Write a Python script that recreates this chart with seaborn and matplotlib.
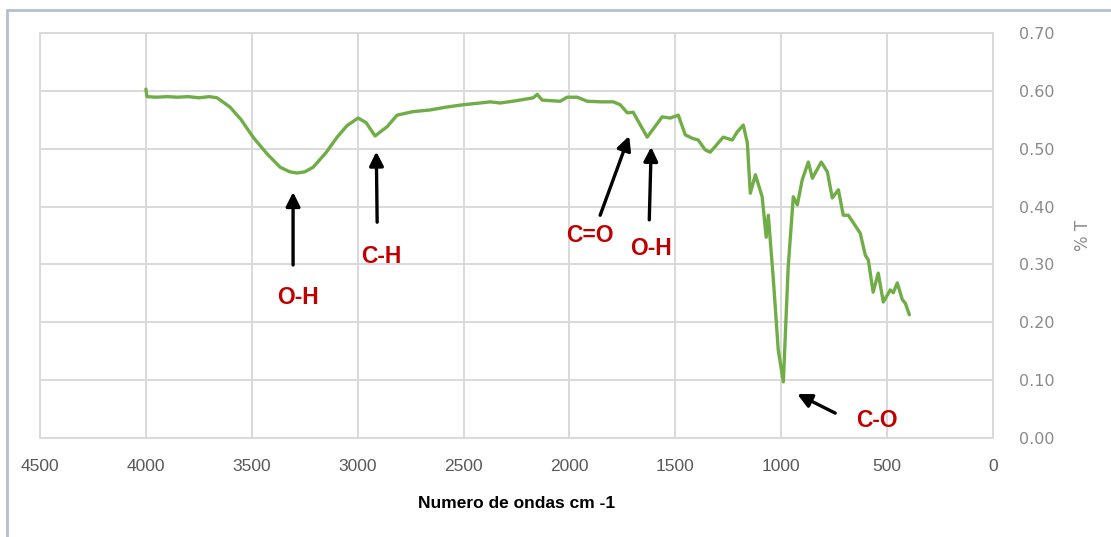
import matplotlib
matplotlib.use("Agg")
import matplotlib.pyplot as plt
import seaborn as sns
import pandas as pd
from matplotlib.lines import Line2D

# ---- data ----
wavenumber = [4000, 3995, 3950, 3900, 3850, 3800, 3750, 3700, 3664, 3603, 3550, 3494, 3430,
              3366, 3320, 3286, 3250, 3210, 3150, 3097, 3050, 2998, 2960, 2918, 2890, 2861,
              2814, 2740, 2658, 2580, 2502, 2422, 2374, 2327, 2250, 2171, 2152, 2129, 2044,
              2011, 1963, 1916, 1850, 1793, 1760, 1727, 1699, 1633, 1562, 1524, 1486, 1453,
              1420, 1392, 1359, 1335, 1274, 1231, 1208, 1179, 1160, 1146, 1122, 1090, 1071,
              1061, 1038, 1014, 990, 967, 943, 924, 901, 872, 853, 811, 782, 759, 730, 707,
              683, 627, 603, 589, 566, 542, 518, 485, 471, 452, 428, 414, 395]
transmittance = [0.603, 0.590, 0.589, 0.590, 0.589, 0.590, 0.588, 0.590, 0.588, 0.572, 0.550,
                 0.520, 0.492, 0.468, 0.460, 0.458, 0.460, 0.468, 0.493, 0.520, 0.540, 0.553,
                 0.545, 0.522, 0.530, 0.538, 0.558, 0.564, 0.567, 0.572, 0.576, 0.579, 0.581,
                 0.579, 0.583, 0.588, 0.594, 0.584, 0.582, 0.589, 0.589, 0.582, 0.581, 0.581,
                 0.576, 0.562, 0.563, 0.520, 0.555, 0.553, 0.558, 0.524, 0.518, 0.515, 0.498,
                 0.494, 0.520, 0.515, 0.529, 0.541, 0.510, 0.423, 0.455, 0.417, 0.347, 0.385,
                 0.278, 0.152, 0.097, 0.296, 0.417, 0.403, 0.446, 0.477, 0.449, 0.477, 0.460,
                 0.415, 0.429, 0.385, 0.385, 0.354, 0.316, 0.308, 0.252, 0.285, 0.235, 0.256,
                 0.251, 0.268, 0.239, 0.233, 0.213]

x_ticks = [4500, 4000, 3500, 3000, 2500, 2000, 1500, 1000, 500, 0]
y_ticks = [0.0, 0.1, 0.2, 0.3, 0.4, 0.5, 0.6, 0.7]

# annotations: label, text position, arrow tail, arrow head (data coords)
ann_labels = ["O-H", "C-H", "C=O", "O-H", "C-O"]
ann_text_xy = [(3280, 0.242), (2890, 0.314), (1902, 0.350), (1614, 0.328), (546, 0.030)]
ann_tail_xy = [(3305, 0.299), (2908, 0.373), (1855, 0.385), (1623, 0.377), (745, 0.043)]
ann_head_xy = [(3305, 0.425), (2912, 0.495), (1718, 0.522), (1614, 0.503), (924, 0.076)]

df = pd.DataFrame({"wn": wavenumber, "T": transmittance})

sns.set_theme(style="white")
plt.rcParams["font.family"] = ["Liberation Sans", "DejaVu Sans"]

fig = plt.figure(figsize=(11.11, 5.37), dpi=100)
ax = fig.add_axes([40 / 1111, (537 - 438) / 537, 953 / 1111, 405 / 537])

sns.lineplot(data=df, x="wn", y="T", sort=False, estimator=None, ax=ax,
             color="#70AD47", linewidth=2.4, zorder=3)

ax.set_xlim(4500, 0)
ax.set_ylim(0, 0.70)
ax.set_xticks(x_ticks)
ax.set_xticklabels([str(v) for v in x_ticks], fontsize=12.5, color="#595959")
ax.yaxis.tick_right()
ax.yaxis.set_label_position("right")
ax.set_yticks(y_ticks)
ax.set_yticklabels([f"{v:.2f}" for v in y_ticks], family="DejaVu Sans", fontsize=11.5,
                   color="#8a8a8a")
ax.tick_params(axis="x", length=0, pad=15)
ax.tick_params(axis="y", length=0, pad=19)
ax.grid(True, color="#d9d9d9", linewidth=1.4)
for s in ax.spines.values():
    s.set_color("#d9d9d9")
    s.set_linewidth(1.4)

ax.set_xlabel("Numero de ondas cm -1", fontsize=12.5, fontweight="bold", color="black",
              labelpad=16)
ax.set_ylabel("% T", family="DejaVu Sans", fontsize=12, color="#8a8a8a", rotation=90,
              labelpad=14)

for lab, txy, tail, head in zip(ann_labels, ann_text_xy, ann_tail_xy, ann_head_xy):
    ax.annotate("", xy=head, xytext=tail,
                arrowprops=dict(arrowstyle="-|>,head_length=0.7,head_width=0.35",
                                color="black", lw=2.4, shrinkA=0, shrinkB=0), zorder=4)
    ax.text(txy[0], txy[1], lab, color="#C00000", fontsize=16.5, fontweight="bold",
            ha="center", va="center", zorder=4)

# outer chart border (top and left visible)
bc = "#b4bfd2"
fig.add_artist(Line2D([7 / 1111, 7 / 1111], [0, 1 - 10 / 537], transform=fig.transFigure,
                      color=bc, lw=2))
fig.add_artist(Line2D([7 / 1111, 1], [1 - 10 / 537, 1 - 10 / 537], transform=fig.transFigure,
                      color=bc, lw=2))

fig.savefig("out.png", dpi=100)
